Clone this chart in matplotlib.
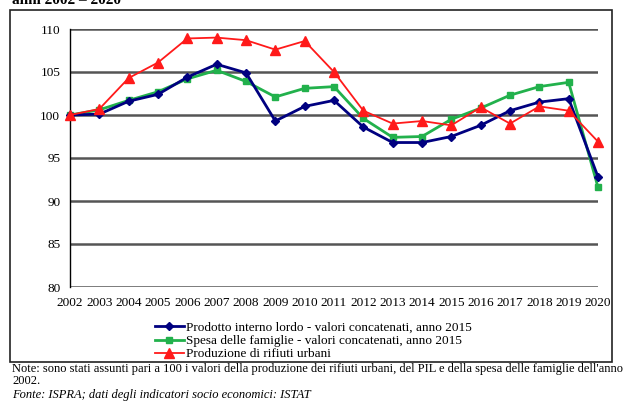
import matplotlib.pyplot as plt
from matplotlib.patches import Rectangle

plt.rcParams['font.family'] = ['Liberation Serif', 'DejaVu Serif']

anni = list(range(2002, 2021))
pil = [100, 100.1, 101.6, 102.4, 104.4, 105.9, 104.9, 99.3, 101.0, 101.7,
       98.6, 96.8, 96.8, 97.5, 98.8, 100.5, 101.5, 101.9, 92.8]
spesa = [100, 100.6, 101.7, 102.7, 104.2, 105.2, 103.9, 102.1, 103.1, 103.3,
         99.6, 97.4, 97.5, 99.5, 100.8, 102.3, 103.3, 103.8, 91.6]
rifiuti = [100, 100.7, 104.3, 106.1, 108.9, 109.0, 108.7, 107.6, 108.6, 105.0,
           100.5, 99.0, 99.3, 98.8, 100.9, 99.0, 101.0, 100.5, 96.9]
yticks = [80, 85, 90, 95, 100, 105, 110]

W, H = 625, 407
fig = plt.figure(figsize=(W / 100, H / 100), dpi=100)
ax = fig.add_axes([70 / W, 1 - 287 / H, 528 / W, 258 / H])

for y in yticks:
    ax.axhline(y, color='#555555', lw=1.8, zorder=1)

ax.plot(anni, pil, '-D', color='#000080', lw=2, ms=4.5, clip_on=False, zorder=3,
        label='Prodotto interno lordo - valori concatenati, anno 2015')
ax.plot(anni, spesa, '-s', color='#22B14C', lw=2, ms=5, clip_on=False, zorder=2,
        label='Spesa delle famiglie - valori concatenati, anno 2015')
ax.plot(anni, rifiuti, '-^', color='#FF1A1A', lw=1.3, ms=7, clip_on=False, zorder=4,
        label='Produzione di rifiuti urbani')

ax.set_xlim(2002, 2020)
ax.set_ylim(80, 110)
ax.set_yticks(yticks)
ax.set_xticks(anni)
ax.set_xticklabels([str(a) for a in anni])
ax.tick_params(labelsize=9.5, length=0, pad=7)
for s in ['top', 'right', 'bottom']:
    ax.spines[s].set_visible(False)
ax.spines['left'].set_linewidth(1)

leg = fig.legend(loc='upper left', bbox_to_anchor=(148 / W, 1 - 315 / H),
                 frameon=False, fontsize=9.5, handlelength=2.2, handletextpad=0.2,
                 labelspacing=0.08, borderpad=0)

fig.patches.append(Rectangle((10 / W, 1 - 362 / H), 602 / W, 352 / H,
                             transform=fig.transFigure, fill=False,
                             edgecolor='#222222', lw=1.2))

fig.text(12 / W, 1 - 1 / H, 'anni 2002 – 2020', fontsize=11, fontweight='bold',
         va='center', ha='left')
fig.text(12 / W, 1 - 369 / H,
         "Note: sono stati assunti pari a 100 i valori della produzione dei rifiuti urbani, "
         "del PIL e della spesa delle famiglie dell'anno", fontsize=9, va='center')
fig.text(12 / W, 1 - 381 / H, '2002.', fontsize=9, va='center')
fig.text(12 / W, 1 - 395 / H, 'Fonte: ISPRA; dati degli indicatori socio economici: ISTAT',
         fontsize=9, va='center', style='italic')

fig.savefig('out.png', dpi=100)
